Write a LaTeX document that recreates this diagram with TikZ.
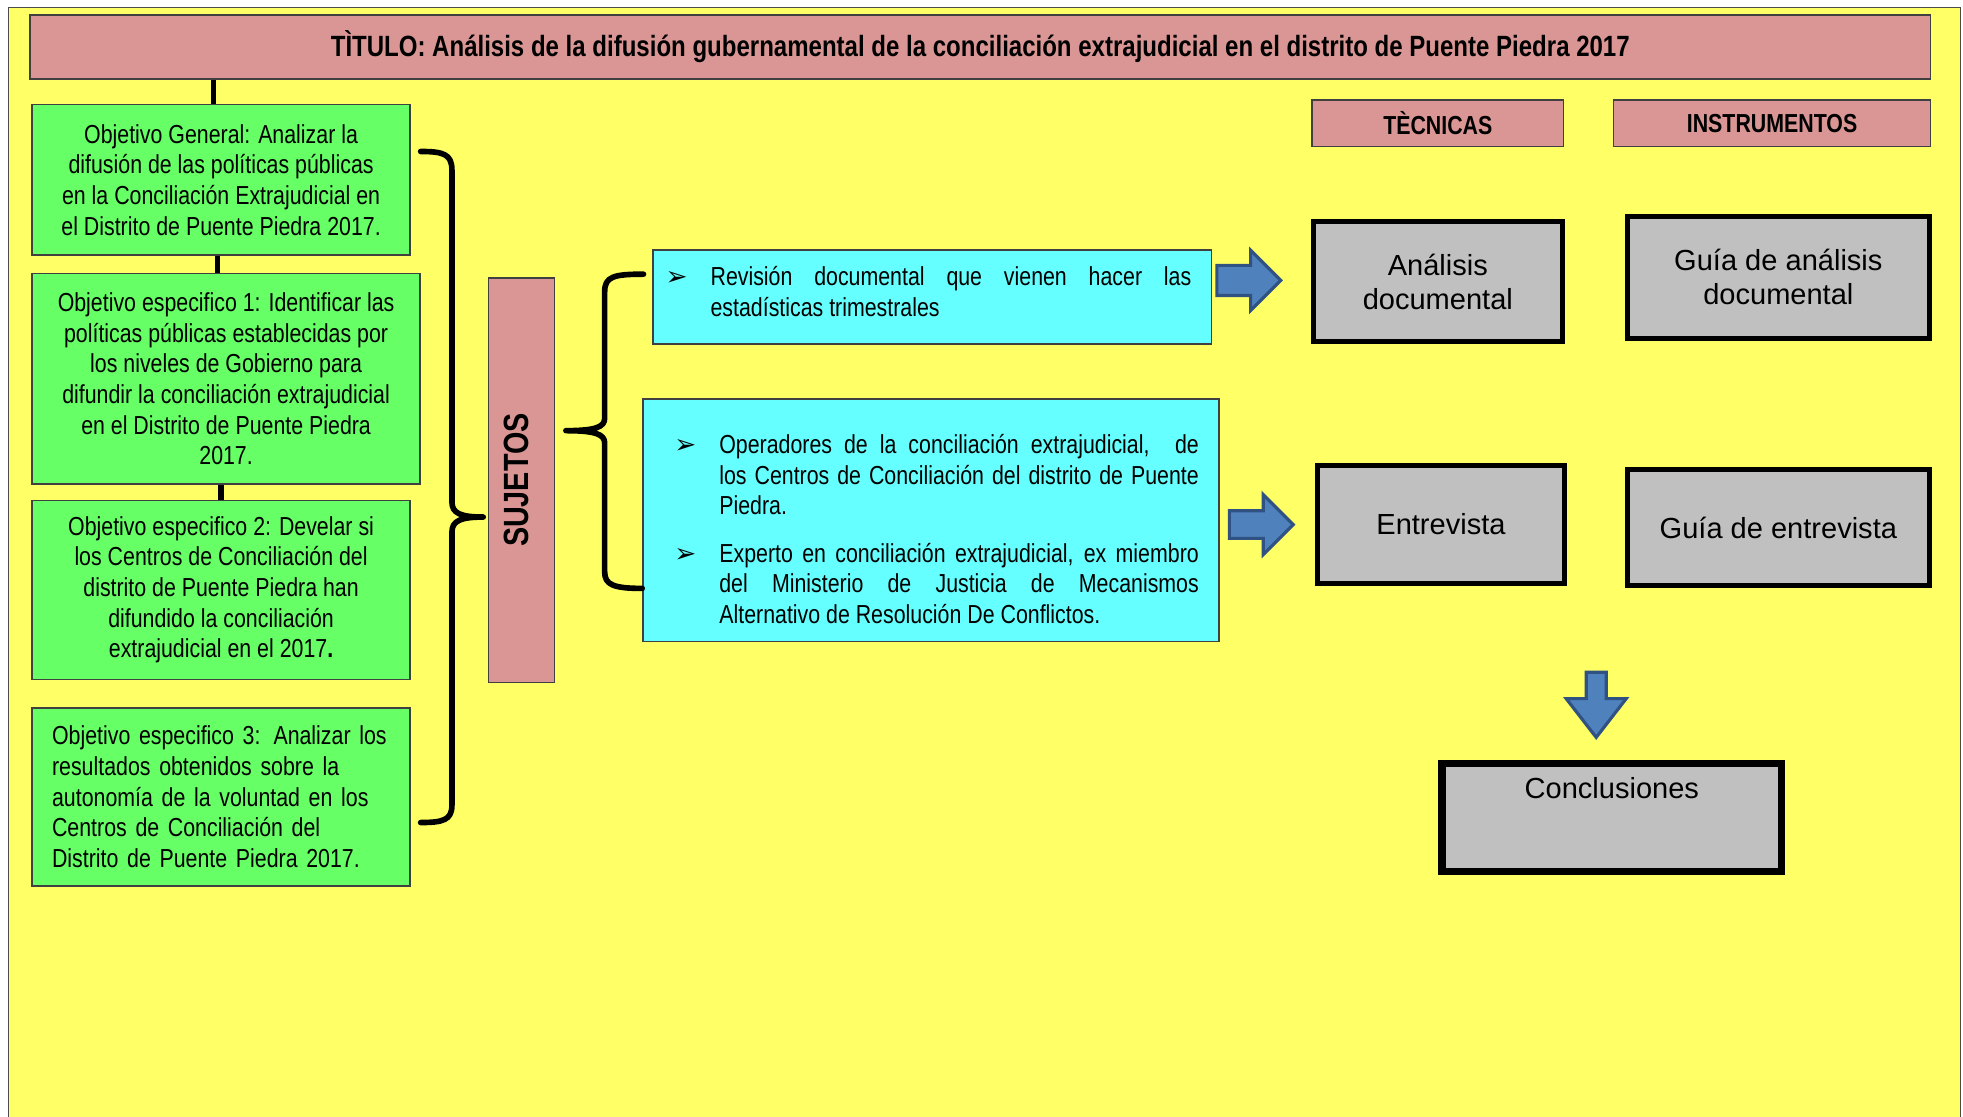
\documentclass[tikz,border=0pt]{standalone}
\usepackage{fontspec}
\setmainfont{Liberation Sans}[FakeStretch=0.82]
\newfontfamily\anchafont{Liberation Sans}
\newfontfamily\simbfont{DejaVu Sans}
\definecolor{amarillo}{HTML}{FFFF66}
\definecolor{rosa}{HTML}{D99694}
\definecolor{verde}{HTML}{66FF66}
\definecolor{cian}{HTML}{66FFFF}
\definecolor{gris}{HTML}{C0C0C0}
\definecolor{azul}{HTML}{4F81BD}
\definecolor{azulosc}{HTML}{2F5283}
\newcommand\cuerpo{\fontsize{20.8}{24.5}\selectfont}
\newcommand\vineta{\noindent\hangindent=36pt\hangafter=1\makebox[36pt][l]{\simbfont\fontsize{21}{21}\selectfont ➢}}
\tikzset{
  caja/.style={draw=black!75, line width=1.2pt, inner sep=0pt},
  titulo/.style={caja, fill=rosa, font=\bfseries\fontsize{23.4}{26}\selectfont},
  encabezado/.style={caja, fill=rosa, font=\bfseries\fontsize{20.8}{24.5}\selectfont},
  objetivo/.style={caja, fill=verde, align=center, anchor=north west, font=\cuerpo},
  sujeto/.style={caja, fill=cian, anchor=north west, font=\cuerpo},
  tecnica/.style={draw=black, line width=4pt, fill=gris, align=center, inner sep=0pt,
    font=\anchafont\fontsize{23.2}{27}\selectfont},
  enlace/.style={line width=4.5pt},
  llave/.style={line width=4.5pt, line join=round, line cap=round},
  flecha/.style={fill=azul, draw=azulosc, line width=2.5pt, line join=miter}
}
\begin{document}
\begin{tikzpicture}[x=1pt,y=-1pt]
  \useasboundingbox (0,0) rectangle (1568,892);
  \fill[white] (0,0) rectangle (1568,892);
  \filldraw[fill=amarillo, draw=black!70, line width=1pt] (7,6) rectangle (1566,900);

  % titulo
  \node[titulo, minimum width=1518, minimum height=51] (tit) at (783,37.5)
    {TÌTULO: Análisis de la difusión gubernamental de la conciliación extrajudicial en el distrito de Puente Piedra 2017};

  % objetivos
  \node[objetivo, minimum width=302, minimum height=120] (og) at (25,83)
    {Objetivo General: Analizar la\\difusión de las políticas públicas\\en la Conciliación Extrajudicial en\\el Distrito de Puente Piedra 2017.};
  \node[objetivo, minimum width=310, minimum height=168] (oe1) at (25,218)
    {Objetivo especifico 1: Identificar las\\políticas públicas establecidas por\\los niveles de Gobierno para\\difundir la conciliación extrajudicial\\en el Distrito de Puente Piedra\\2017.};
  \node[objetivo, minimum width=302, minimum height=143] (oe2) at (25,399)
    {Objetivo especifico 2: Develar si\\los Centros de Conciliación del\\distrito de Puente Piedra han\\difundido la conciliación\\extrajudicial en el 2017{\bfseries .}};
  \node[objetivo, align=left, text width=270, inner xsep=16pt, minimum height=142] (oe3) at (25,565)
    {Objetivo especifico 3: Analizar los\\resultados obtenidos sobre la\\autonomía de la voluntad en los\\Centros de Conciliación del\\Distrito de Puente Piedra 2017.};

  \draw[enlace] ([xshift=-6pt]og.north) -- ([xshift=-6pt]og.north |- tit.south);
  \draw[enlace] ([xshift=-3pt]og.south) -- ([xshift=-3pt]og.south |- oe1.north);
  \draw[enlace] ([xshift=-4pt]oe1.south) -- ([xshift=-4pt]oe1.south |- oe2.north);

  % sujetos
  \node[caja, fill=rosa, rotate=90, minimum width=323, minimum height=53, text depth=9pt,
    font=\bfseries\fontsize{28}{30}\selectfont] (suj) at (416.5,383.5) {SUJETOS};

  \coordinate (ll1a) at (336,121);
  \coordinate (ll1b) at (386,413);
  \coordinate (ll1c) at (336,657);
  \draw[llave] (ll1a) .. controls (354,121) and (361,123) .. (361,136) -- (361,401)
    .. controls (361,410) and (368,413) .. (ll1b)
    .. controls (368,413) and (361,416) .. (361,425) -- (361,643)
    .. controls (361,655) and (354,657) .. (ll1c);

  \node[sujeto, minimum width=446, minimum height=75] (rev) at (521,199)
    {\parbox{420pt}{\vineta Revisión documental que vienen hacer las\linebreak estadísticas trimestrales\par\vspace*{8pt}}\hspace*{6pt}};
  \node[sujeto, minimum width=460, minimum height=194] (ope) at (513,318)
    {\hspace*{9pt}\parbox{419pt}{\vspace*{14pt}\vineta Operadores de la conciliación extrajudicial, \ de\linebreak los Centros de Conciliación del distrito de Puente\linebreak Piedra.\par\vspace{13.5pt}
     \vineta Experto en conciliación extrajudicial, ex miembro\linebreak del Ministerio de Justicia de Mecanismos\linebreak Alternativo de Resolución De Conflictos.}};

  \coordinate (ll2a) at (514,219);
  \coordinate (ll2b) at (452,344);
  \draw[llave] (ll2a) .. controls (490,219) and (483,221) .. (483,233) -- (483,334)
    .. controls (483,341) and (476,344) .. (ll2b)
    .. controls (476,344) and (483,347) .. (483,354) -- (483,457)
    .. controls (483,467) and (490,470) .. (ope.west |- 0,470);

  % tecnicas e instrumentos
  \node[encabezado, minimum width=201, minimum height=37] (tec) at (1148.5,98.5) {TÈCNICAS};
  \node[encabezado, minimum width=253, minimum height=37] (ins) at (1415.5,98.5) {INSTRUMENTOS};

  \node[tecnica, minimum width=199, minimum height=96] (anadoc) at (1148.5,225) {Análisis\\documental};
  \node[tecnica, minimum width=241, minimum height=97] (guiaana) at (1420.5,221.5) {Guía de análisis\\documental};
  \node[tecnica, minimum width=198, minimum height=94] (entrev) at (1151,419) {Entrevista};
  \node[tecnica, minimum width=241, minimum height=93] (guiaent) at (1420.5,421.5) {Guía de entrevista};
  \node[tecnica, line width=6pt, minimum width=271, anchor=north, text height=28pt, text depth=58pt]
    (concl) at (1287.5,607) {Conclusiones};

  % flechas
  \draw[flecha] (972,212) -- (999,212) -- (999,200) -- (1023,224) -- (999,248) -- (999,236) -- (972,236) -- cycle;
  \draw[flecha] (982,408) -- (1009,408) -- (1009,395) -- (1033,419) -- (1009,443) -- (1009,430) -- (982,430) -- cycle;
  \draw[flecha] (1267,537) -- (1283,537) -- (1283,558) -- (1299,558) -- (1275,589) -- (1251,558) -- (1267,558) -- cycle;
\end{tikzpicture}
\end{document}
